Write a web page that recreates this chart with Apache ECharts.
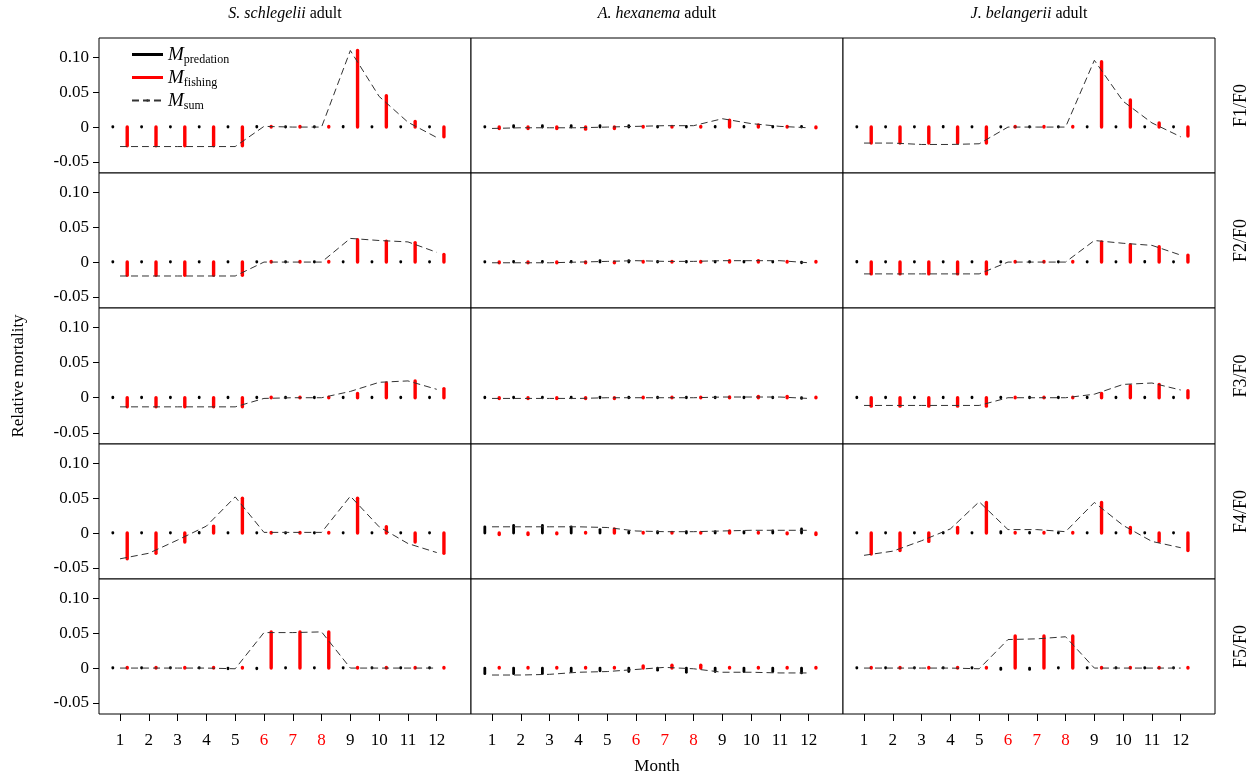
<!DOCTYPE html>
<html>
<head>
  <meta charset="utf-8">
  <title>Relative mortality</title>
  <script src="https://cdn.jsdelivr.net/npm/echarts@6/dist/echarts.min.js"></script>
</head>
<body style="margin:0">
  <div id="main" style="width: 1257px;height:782px;"></div>
  <script type="text/javascript">
    var months = [1, 2, 3, 4, 5, 6, 7, 8, 9, 10, 11, 12];
    var redMonths = [6, 7, 8];
    var species = ['S. schlegelii', 'A. hexanema', 'J. belangerii'];
    var scenarios = ['F1/F0', 'F2/F0', 'F3/F0', 'F4/F0', 'F5/F0'];
    var yTicks = [-0.05, 0, 0.05, 0.10];

    // rows = F1..F5, one value per month
    var ssPredation = [
      [0, 0, 0, 0, 0, 0.001, 0, 0, 0.001, 0, 0, 0],
      [0, 0, 0, 0, 0, 0, 0, 0, 0, 0, 0, 0],
      [0, 0, 0, 0, 0, 0, 0, 0, 0, 0, 0, 0],
      [0, 0, 0, 0.001, 0, 0, 0, 0, 0, 0, 0, 0],
      [0, 0, 0, 0, -0.001, -0.001, 0, 0, 0, 0, 0, 0]
    ];
    var ssFishing = [
      [-0.027, -0.027, -0.027, -0.027, -0.027, 0, 0, 0, 0.110, 0.045, 0.008, -0.014],
      [-0.019, -0.019, -0.019, -0.019, -0.019, 0, 0, 0, 0.032, 0.030, 0.028, 0.011],
      [-0.013, -0.013, -0.013, -0.013, -0.013, 0, 0, 0, 0.006, 0.021, 0.024, 0.013],
      [-0.037, -0.029, -0.013, 0.010, 0.050, 0, 0, 0, 0.050, 0.009, -0.013, -0.029],
      [0, 0, 0, 0, 0, 0.052, 0.052, 0.052, 0, 0, 0, 0]
    ];
    var ssSum = [
      [-0.028, -0.028, -0.028, -0.028, -0.028, 0.001, 0, 0, 0.110, 0.044, 0.007, -0.015],
      [-0.020, -0.020, -0.020, -0.020, -0.020, 0, 0, 0, 0.034, 0.031, 0.029, 0.014],
      [-0.013, -0.013, -0.013, -0.013, -0.013, -0.001, 0, 0, 0.009, 0.022, 0.024, 0.012],
      [-0.037, -0.029, -0.010, 0.010, 0.052, 0.001, 0.001, 0.001, 0.053, 0.009, -0.015, -0.028],
      [0, 0, 0, 0, -0.001, 0.051, 0.051, 0.052, 0, 0, 0, 0]
    ];

    var ahPredation = [
      [0, 0.002, 0.002, 0.002, 0.002, 0.002, 0.001, 0.001, 0.001, 0.001, 0.001, 0.001],
      [0, 0.001, 0.001, 0.001, 0.002, 0.002, 0.001, 0.001, 0.001, 0.001, 0, -0.001],
      [0, 0, 0, 0, 0.001, 0, 0, 0, 0.001, 0, 0, -0.001],
      [0.009, 0.011, 0.011, 0.009, 0.005, 0.002, 0.002, 0.002, 0.002, 0.002, 0.003, 0.006],
      [-0.008, -0.008, -0.008, -0.005, -0.004, -0.005, -0.003, -0.006, -0.005, -0.005, -0.005, -0.007]
    ];
    var ahFishing = [
      [-0.002, -0.002, -0.002, -0.003, -0.002, 0, 0, 0, 0.010, 0.003, 0.001, -0.001],
      [-0.001, -0.001, -0.001, -0.001, -0.001, 0, 0, 0, 0.002, 0.002, 0.001, 0],
      [-0.001, -0.001, -0.001, -0.001, -0.001, 0, 0, 0, 0.001, 0.002, 0.002, 0],
      [-0.002, -0.002, -0.001, 0, 0.006, 0, 0, 0, 0.003, 0.001, -0.001, -0.002],
      [0, 0, 0, 0, 0, 0.003, 0.004, 0.004, 0, 0, 0, 0]
    ];
    var ahSum = [
      [-0.002, -0.001, -0.001, -0.001, 0, 0.001, 0.002, 0.002, 0.012, 0.005, 0.001, -0.001],
      [-0.001, -0.001, -0.001, 0, 0.001, 0.002, 0.001, 0.001, 0.002, 0.002, 0.002, -0.001],
      [-0.001, -0.001, -0.001, -0.001, 0, 0, 0, 0, 0.001, 0.001, 0.001, -0.001],
      [0.009, 0.009, 0.009, 0.009, 0.008, 0.003, 0.002, 0.002, 0.003, 0.004, 0.004, 0.004],
      [-0.010, -0.010, -0.009, -0.006, -0.005, -0.002, 0.001, -0.001, -0.006, -0.006, -0.007, -0.007]
    ];

    var jbPredation = [
      [0, 0, 0, 0.001, 0, 0, 0, 0, 0, 0, 0, 0],
      [0.001, 0, 0, 0, 0, 0, 0, 0, 0, 0, 0.001, 0],
      [0, 0, 0, 0, 0, 0, 0, 0.001, 0, 0, 0, 0],
      [0, 0, 0, 0, 0, 0.002, 0.001, 0, 0, 0, 0, 0],
      [0, 0, 0, 0, 0, -0.002, -0.002, 0, 0, 0, 0, 0]
    ];
    var jbFishing = [
      [-0.023, -0.023, -0.023, -0.023, -0.023, 0, 0, 0, 0.094, 0.039, 0.006, -0.013],
      [-0.017, -0.017, -0.017, -0.017, -0.017, 0, 0, 0, 0.029, 0.025, 0.022, 0.010],
      [-0.012, -0.012, -0.012, -0.012, -0.012, 0, 0, 0, 0.006, 0.017, 0.019, 0.010],
      [-0.030, -0.025, -0.012, 0.008, 0.044, 0, 0, 0, 0.044, 0.008, -0.012, -0.025],
      [0, 0, 0, 0, 0, 0.046, 0.046, 0.046, 0, 0, 0, 0]
    ];
    var jbSum = [
      [-0.023, -0.023, -0.025, -0.025, -0.024, 0, 0, 0, 0.096, 0.037, 0.006, -0.014],
      [-0.017, -0.017, -0.017, -0.017, -0.017, 0, 0, 0, 0.031, 0.027, 0.024, 0.010],
      [-0.011, -0.011, -0.011, -0.011, -0.011, 0, 0, 0, 0.005, 0.019, 0.021, 0.011],
      [-0.032, -0.026, -0.011, 0.006, 0.045, 0.005, 0.005, 0.002, 0.044, 0.011, -0.012, -0.021],
      [0, 0, 0, 0, -0.001, 0.041, 0.042, 0.045, 0, 0, 0, 0]
    ];

    var predation = [ssPredation, ahPredation, jbPredation];
    var fishing = [ssFishing, ahFishing, jbFishing];
    var sums = [ssSum, ahSum, jbSum];

    var font = 'Liberation Serif';
    var colLeft = [99, 471, 843];
    var panelW = 372;
    var rowTop = [38, 173, 308, 444, 579];
    var rowH = [135, 135, 136, 135, 135];

    var myChart = echarts.init(document.getElementById('main'));

    // a vertical stick from 0 to the value, round caps so zero shows as a dot
    function stick(color, width) {
      return function (params, api) {
        var base = api.coord([api.value(0), 0]);
        var tip = api.coord([api.value(0), api.value(1)]);
        if (Math.abs(tip[1] - base[1]) < 0.5) tip[1] = base[1] - 0.5;
        return {
          type: 'line',
          shape: { x1: base[0], y1: base[1], x2: tip[0], y2: tip[1] },
          style: { stroke: color, lineWidth: width, lineCap: 'round' }
        };
      };
    }

    var grids = [], xAxes = [], yAxes = [], series = [];
    for (var r = 0; r < scenarios.length; r++) {
      for (var c = 0; c < species.length; c++) {
        var i = grids.length;
        grids.push({
          left: colLeft[c], top: rowTop[r], width: panelW, height: rowH[r],
          show: true, borderColor: '#000', borderWidth: 1, backgroundColor: '#fff',
          containLabel: false, outerBoundsMode: 'none'
        });
        var bottom = r === scenarios.length - 1;
        xAxes.push({
          type: 'value', gridIndex: i, min: 0.27, max: 13.19,
          show: bottom, position: 'bottom',
          axisLine: { show: false, onZero: false },
          splitLine: { show: false },
          axisTick: { show: bottom, customValues: months, length: 7, lineStyle: { color: '#000' } },
          axisLabel: {
            show: bottom, customValues: months, margin: 18,
            fontFamily: font, fontSize: 17, color: '#000',
            formatter: function (v) {
              return redMonths.indexOf(v) >= 0 ? '{r|' + v + '}' : String(v);
            },
            rich: { r: { fontFamily: font, fontSize: 17, color: '#ff0000' } }
          },
          name: bottom && c === 1 ? 'Month' : '',
          nameLocation: 'middle', nameGap: 44,
          nameTextStyle: { fontFamily: font, fontSize: 17, color: '#000' }
        });
        var left = c === 0;
        yAxes.push({
          type: 'value', gridIndex: i, min: -0.066, max: 0.128,
          show: left, position: 'left',
          axisLine: { show: false, onZero: false },
          splitLine: { show: false },
          axisTick: { show: left, customValues: yTicks, length: 6, lineStyle: { color: '#000' } },
          axisLabel: {
            show: left, customValues: yTicks, margin: 10,
            fontFamily: font, fontSize: 17, color: '#000',
            formatter: function (v) { return v === 0 ? '0' : v.toFixed(2); }
          },
          name: left && r === 2 ? 'Relative mortality' : '',
          nameLocation: 'middle', nameGap: 72, nameRotate: 90,
          nameTextStyle: { fontFamily: font, fontSize: 17, color: '#000' }
        });

        series.push({
          name: 'predation', type: 'custom', xAxisIndex: i, yAxisIndex: i,
          renderItem: stick('#000', 2.8), itemStyle: { color: '#000' },
          encode: { x: 0, y: 1 }, silent: true,
          data: months.map(function (m, k) { return [m - 0.25, predation[c][r][k]]; })
        });
        series.push({
          name: 'fishing', type: 'custom', xAxisIndex: i, yAxisIndex: i,
          renderItem: stick('#ff0000', 3.4), itemStyle: { color: '#ff0000' },
          encode: { x: 0, y: 1 }, silent: true,
          data: months.map(function (m, k) { return [m + 0.25, fishing[c][r][k]]; })
        });
        series.push({
          name: 'sum', type: 'line', xAxisIndex: i, yAxisIndex: i,
          symbol: 'none', silent: true, z: 3,
          lineStyle: { color: '#333', width: 1, type: [7, 4] },
          itemStyle: { color: '#333' },
          data: months.map(function (m, k) { return [m, sums[c][r][k]]; })
        });
      }
    }

    var graphics = [];
    species.forEach(function (s, c) {
      graphics.push({
        type: 'text', x: colLeft[c] + panelW / 2, y: 14,
        style: {
          text: '{i|' + s + '} adult', fontFamily: font, fontSize: 16, fill: '#000',
          align: 'center', verticalAlign: 'middle',
          rich: { i: { fontFamily: font, fontSize: 16, fontStyle: 'italic', fill: '#000' } }
        }
      });
    });
    scenarios.forEach(function (s, r) {
      graphics.push({
        type: 'text', x: 1241, y: rowTop[r] + rowH[r] / 2, rotation: Math.PI / 2,
        style: {
          text: s, fontFamily: font, fontSize: 18, fill: '#000',
          align: 'center', verticalAlign: 'middle'
        }
      });
    });

    option = {
      animation: false,
      backgroundColor: '#fff',
      grid: grids,
      xAxis: xAxes,
      yAxis: yAxes,
      legend: {
        orient: 'vertical', left: 131, top: 45, padding: 0, itemGap: 2,
        itemWidth: 31, itemHeight: 3, selectedMode: false,
        data: [{ name: 'predation', icon: 'rect' }, { name: 'fishing', icon: 'rect' }, { name: 'sum' }],
        formatter: function (name) { return '{m|M}{s|' + name + '}'; },
        textStyle: {
          color: '#000',
          rich: {
            m: { fontFamily: font, fontStyle: 'italic', fontSize: 19, lineHeight: 23, color: '#000' },
            s: { fontFamily: font, fontSize: 12, lineHeight: 10, verticalAlign: 'bottom', color: '#000' }
          }
        }
      },
      graphic: graphics,
      series: series
    };

    myChart.setOption(option);
  </script>
</body>
</html>
